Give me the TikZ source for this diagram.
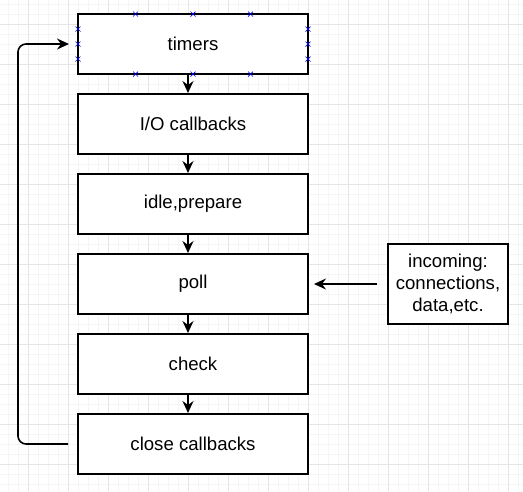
\documentclass[tikz,border=0pt]{standalone}
\usepackage{fontspec}
\setmainfont{Liberation Sans}
\usetikzlibrary{arrows.meta}
\newcommand{\hmark}[2]{\draw[handle] (#1-2.5,#2-2.5) -- (#1+2.5,#2+2.5) (#1-2.5,#2+2.5) -- (#1+2.5,#2-2.5);}

\begin{document}
\begin{tikzpicture}[x=1pt,y=-1pt,
    box/.style={draw,line width=2pt,fill=white,minimum width=230pt,minimum height=60pt,font=\fontsize{18.6}{21.8}\selectfont},
    flow/.style={-{Stealth[length=12pt,width=11pt,inset=4pt]},line width=1.6pt},
    handle/.style={blue,line width=0.7pt}]
        \useasboundingbox (0,0) rectangle (523,491);
        % grid
        \foreach \x in {8,18,...,518} \draw[black!4,line width=0.8pt] (\x,0) -- (\x,491);
        \foreach \y in {4,14,...,484} \draw[black!4,line width=0.8pt] (0,\y) -- (523,\y);
        \foreach \x in {28,68,...,508} \draw[black!10,line width=0.8pt] (\x,0) -- (\x,491);
        \foreach \y in {24,64,...,464} \draw[black!10,line width=0.8pt] (0,\y) -- (523,\y);
        % phases
        \node[box] (timers) at (193,44) {timers};
        \node[box] (io) at (193,124) {I/O callbacks};
        \draw[flow] ([xshift=-5pt]timers.south) -- ([xshift=-5pt]io.north);
        \node[box] (idle) at (193,204) {idle,prepare};
        \draw[flow] ([xshift=-5pt]io.south) -- ([xshift=-5pt]idle.north);
        \node[box] (poll) at (193,284) {poll};
        \draw[flow] ([xshift=-5pt]idle.south) -- ([xshift=-5pt]poll.north);
        \node[box] (check) at (193,364) {check};
        \draw[flow] ([xshift=-5pt]poll.south) -- ([xshift=-5pt]check.north);
        \node[box] (close) at (193,444) {close callbacks};
        \draw[flow] ([xshift=-5pt]check.south) -- ([xshift=-5pt]close.north);
        % loop back
        \coordinate (back) at (18,0);
        \draw[flow,rounded corners=8pt,shorten <=9pt,shorten >=8pt] (close.west) -- (close.west -| back) -- (timers.west -| back) -- (timers.west);
        % incoming
        \node[box,minimum width=120pt,minimum height=80pt,align=center] (inc) at (448,284) {incoming:\\connections,\\data,etc.};
        \draw[flow,shorten <=10pt,shorten >=5pt] (inc.west) -- (poll.east);
        % selection handles
        \foreach \hx in {135.5,193,250.5} {\hmark{\hx}{14} \hmark{\hx}{74}}
        \foreach \hy in {29,44,59} {\hmark{78}{\hy} \hmark{308}{\hy}}
\end{tikzpicture}
\end{document}
